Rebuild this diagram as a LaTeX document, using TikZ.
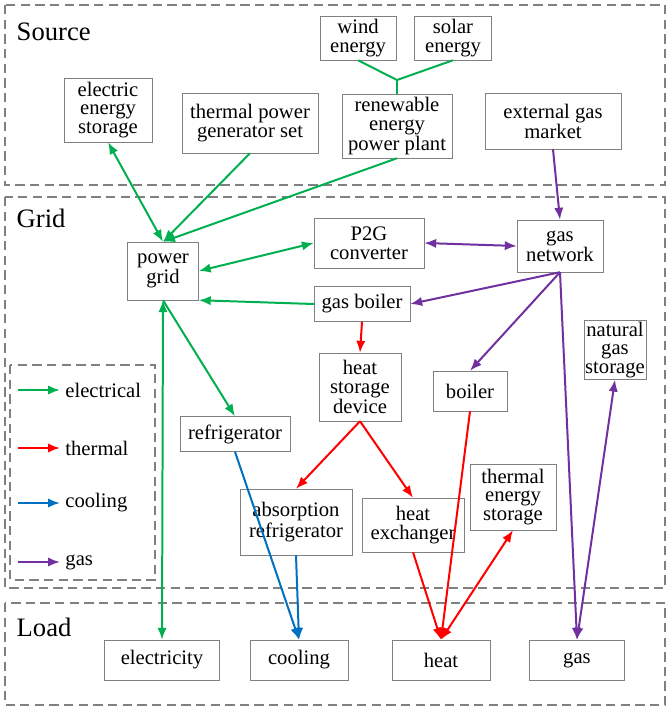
\documentclass[tikz,border=0pt]{standalone}
\usepackage{fontspec}
\setmainfont{Liberation Serif}
\usetikzlibrary{positioning,arrows.meta}
\definecolor{elec}{RGB}{0,176,80}
\definecolor{heatc}{RGB}{255,0,0}
\definecolor{coolc}{RGB}{0,112,192}
\definecolor{gasc}{RGB}{112,48,160}
\tikzset{
  box/.style={draw=gray, fill=white, align=center, font=\fontsize{15.5}{14}\selectfont,
    inner sep=1pt},
  sz/.style 2 args={minimum width=#1*0.75pt, minimum height=#2*0.75pt},
  zone/.style={draw=gray, dashed, dash pattern=on 7pt off 4pt, line width=1.1pt},
  zlabel/.style={anchor=west, font=\fontsize{20}{20}\selectfont},
  ltext/.style={right, black, font=\fontsize{15.5}{15}\selectfont},
  flow/.style={-{Latex[length=9pt,width=7pt]}, line width=1.5pt},
  both/.style={{Latex[length=9pt,width=7pt]}-{Latex[length=9pt,width=7pt]}, line width=1.5pt}
}
\begin{document}
\begin{tikzpicture}[x=0.0264cm, y=-0.0264cm]
        \useasboundingbox (0,0) rectangle (671,711);
        % zones
        \draw[zone] (5,5) rectangle (665,185);
        \draw[zone] (5,197) rectangle (665,588);
        \draw[zone] (5,603) rectangle (665,705);
        \draw[zone] (10,365) rectangle (155,580);
        \node[zlabel] (src) at (12,32) {Source};
        \node[zlabel] (grd) at (12,218) {Grid};
        \node[zlabel] (lod) at (12,627) {Load};

        % source
        \node[box, sz={76}{44}] (wind) at (358,38) {wind\\energy};
        \node[box, sz={77}{44}] (solar) at (453,38) {solar\\energy};
        \node[box, sz={110}{64}] (rpp) at (397,126) {renewable\\energy\\power plant};
        \node[box, sz={88}{64}] (ees) at (108,110) {electric\\energy\\storage};
        \node[box, sz={136}{60}] (tpg) at (250,123) {thermal power\\generator set};
        \node[box, sz={136}{56}] (egm) at (553,121) {external gas\\market};

        % grid
        \node[box, sz={71}{58}] (pg) at (163,271) {power\\grid};
        \node[box, sz={110}{50}] (p2g) at (369,243) {P2G\\converter};
        \node[box, sz={86}{52}] (gn) at (560,246) {gas\\network};
        \node[box, sz={96}{35}] (gb) at (362,304) {gas boiler};
        \node[box, sz={56}{58}] (ngs) at (615,350) {natural\\gas\\storage};
        \node[box, sz={82}{68}] (hsd) at (360,387) {heat\\storage\\device};
        \node[box, sz={74}{40}] (blr) at (470,391) {boiler};
        \node[box, sz={110}{35}] (ref) at (235,434) {refrigerator};
        \node[box, sz={112}{66}] (abs) at (296,522) {absorption\\refrigerator};
        \node[box, sz={102}{54}] (hex) at (413,525) {heat\\exchanger};
        \node[box, sz={86}{66}] (tes) at (513,497) {thermal\\energy\\storage};

        % load
        \node[box, sz={115}{40}] (el) at (162,660) {electricity};
        \node[box, sz={98}{40}] (cl) at (299,660) {cooling};
        \node[box, sz={98}{40}] (ht) at (441,660) {heat};
        \node[box, sz={95}{40}] (gs) at (577,660) {gas};

        % legend
        \coordinate (l1) at (18,390); \coordinate (l1e) at (60,390);
        \coordinate (l2) at (18,448); \coordinate (l2e) at (60,448);
        \coordinate (l3) at (18,503); \coordinate (l3e) at (60,503);
        \coordinate (l4) at (18,562); \coordinate (l4e) at (60,562);
        \draw[flow, elec] (l1) -- (l1e) node[ltext] {electrical};
        \draw[flow, heatc] (l2) -- (l2e) node[ltext] {thermal};
        \draw[flow, coolc] (l3) -- (l3e) node[ltext] {cooling};
        \draw[flow, gasc] (l4) -- (l4e) node[ltext] {gas};

        % electrical
        \draw[line width=1.5pt, elec] (wind.south) -- (397,80) -- (solar.south);
        \draw[line width=1.5pt, elec] (397,80) -- (rpp.north);
        \draw[both, elec] (ees.south) -- (pg.north);
        \draw[flow, elec] (tpg.south) -- (pg.north);
        \draw[flow, elec] (rpp.south) -- (pg.north);
        \draw[both, elec] (pg.east) -- (p2g.west);
        \draw[flow, elec] (gb.west) -- (pg.south east);
        \draw[both, elec] (el.north) -- (pg.south);
        \draw[flow, elec] (pg.south) -- (ref.north);

        % gas
        \draw[both, gasc] (p2g.east) -- (gn.west);
        \draw[flow, gasc] (egm.south) -- (gn.north);
        \draw[flow, gasc] (gn.south) -- (gb.east);
        \draw[flow, gasc] (gn.south) -- (blr.north);
        \draw[flow, gasc] (gn.south) -- (gs.north);
        \draw[both, gasc] (gs.north) -- (ngs.south);

        % thermal
        \draw[flow, heatc] (gb.south) -- (hsd.north);
        \draw[flow, heatc] (hsd.south) -- (abs.north);
        \draw[flow, heatc] (hsd.south) -- (hex.north);
        \draw[flow, heatc] (blr.south) -- (ht.north);
        \draw[flow, heatc] (hex.south) -- (ht.north);
        \draw[both, heatc] (ht.north) -- (tes.south);

        % cooling
        \draw[flow, coolc] (ref.south) -- (cl.north);
        \draw[flow, coolc] (abs.south) -- (cl.north);
\end{tikzpicture}
\end{document}
